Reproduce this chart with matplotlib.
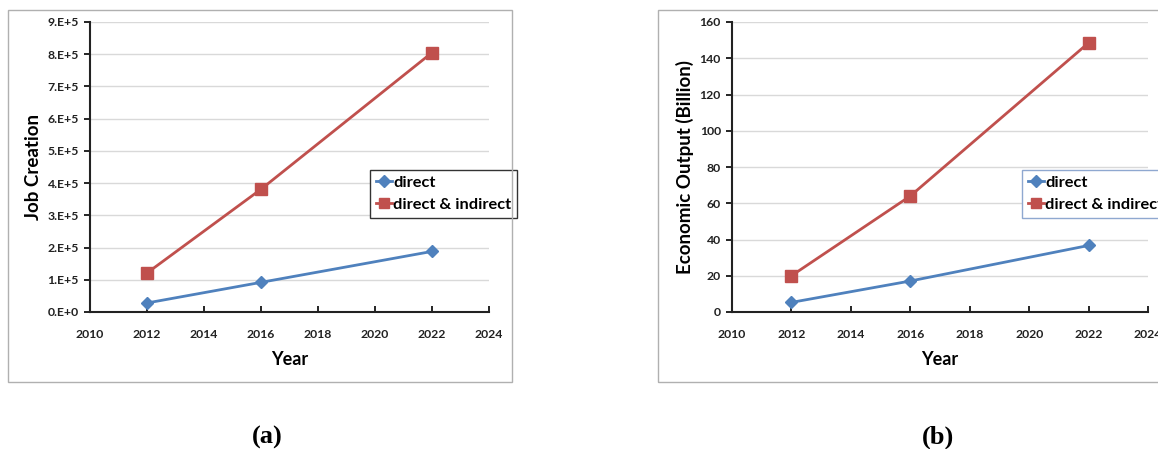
import matplotlib.pyplot as plt
from matplotlib.patches import Rectangle
from matplotlib.ticker import FuncFormatter, MultipleLocator

years = [2012, 2016, 2022]
jobs_direct = [28000, 92000, 188000]
jobs_total = [121000, 381000, 805000]
output_direct = [5.3, 17.1, 36.7]
output_total = [20.0, 64.0, 148.5]

blue = '#4F81BD'
red = '#C0504D'
font = 'Lato'

W, H = 1158, 449
fig = plt.figure(figsize=(W / 100, H / 100), dpi=100)
fig.patch.set_facecolor('white')


def px(x0, y0, x1, y1):
    # pixel box (top-left origin) -> figure fraction rect
    return [x0 / W, 1 - y1 / H, (x1 - x0) / W, (y1 - y0) / H]


def sci_fmt(v, pos):
    if v == 0:
        return '0.E+0'
    return '%d.E+5' % round(v / 1e5)


def make_panel(rect, frame, d, t, ymax, ystep, ylabel, fmt, leg_xy, leg_edge):
    fig.add_artist(Rectangle((frame[0] / W, 1 - frame[3] / H),
                             (frame[2] - frame[0]) / W, (frame[3] - frame[1]) / H,
                             transform=fig.transFigure, fill=False,
                             edgecolor='#b0b0b0', lw=1.0, clip_on=False))
    ax = fig.add_axes(rect)
    ax.plot(years, d, color=blue, lw=2.0, marker='D', ms=6.5, label='direct')
    ax.plot(years, t, color=red, lw=2.0, marker='s', ms=8, label='direct & indirect')
    ax.set_xlim(2010, 2024)
    ax.set_ylim(0, ymax)
    ax.xaxis.set_major_locator(MultipleLocator(2))
    ax.yaxis.set_major_locator(MultipleLocator(ystep))
    if fmt is not None:
        ax.yaxis.set_major_formatter(FuncFormatter(fmt))
    ax.grid(axis='y', color='#d9d9d9', lw=1.0)
    ax.set_axisbelow(True)
    for s in ['top', 'right']:
        ax.spines[s].set_visible(False)
    for s in ['left', 'bottom']:
        ax.spines[s].set_color('#222222')
        ax.spines[s].set_linewidth(1.5)
    ax.tick_params(axis='y', direction='out', length=4, width=1.2, pad=4)
    ax.tick_params(axis='x', direction='in', length=4, width=1.2, pad=12)
    for lab in ax.get_xticklabels() + ax.get_yticklabels():
        lab.set_fontfamily(font)
        lab.set_fontweight('bold')
        lab.set_fontsize(8.8)
        lab.set_color('#222222')
    ax.set_xlabel('Year', fontfamily=font, fontweight='bold', fontsize=13, labelpad=8)
    ax.set_ylabel(ylabel, fontfamily=font, fontweight='bold', fontsize=13.5, labelpad=4)
    leg = ax.legend(loc='upper left', bbox_to_anchor=(leg_xy[0] / W, 1 - leg_xy[1] / H),
                    bbox_transform=fig.transFigure, frameon=True, fancybox=False,
                    framealpha=1, edgecolor=leg_edge, handlelength=1.0,
                    handletextpad=0.05, borderpad=0.35, borderaxespad=0,
                    labelspacing=0.45, markerscale=0.9,
                    prop={'family': font, 'weight': 'bold', 'size': 11.8})
    leg.get_frame().set_linewidth(1.0)
    return ax


make_panel(px(90, 22, 489, 312), (8, 10, 512, 382), jobs_direct, jobs_total,
           9e5, 1e5, 'Job Creation', sci_fmt, (370, 170), '#333333')
make_panel(px(732, 22, 1148, 312), (658, 10, 1200, 382), output_direct, output_total,
           160, 20, 'Economic Output (Billion)', None, (1022, 170), '#8fa8d0')

fig.text(267 / W, 1 - 437 / H, '(a)', ha='center', va='center',
         fontfamily='Liberation Serif', fontweight='bold', fontsize=19)
fig.text(938 / W, 1 - 437 / H, '(b)', ha='center', va='center',
         fontfamily='Liberation Serif', fontweight='bold', fontsize=19)

fig.savefig('out.png', dpi=100)
